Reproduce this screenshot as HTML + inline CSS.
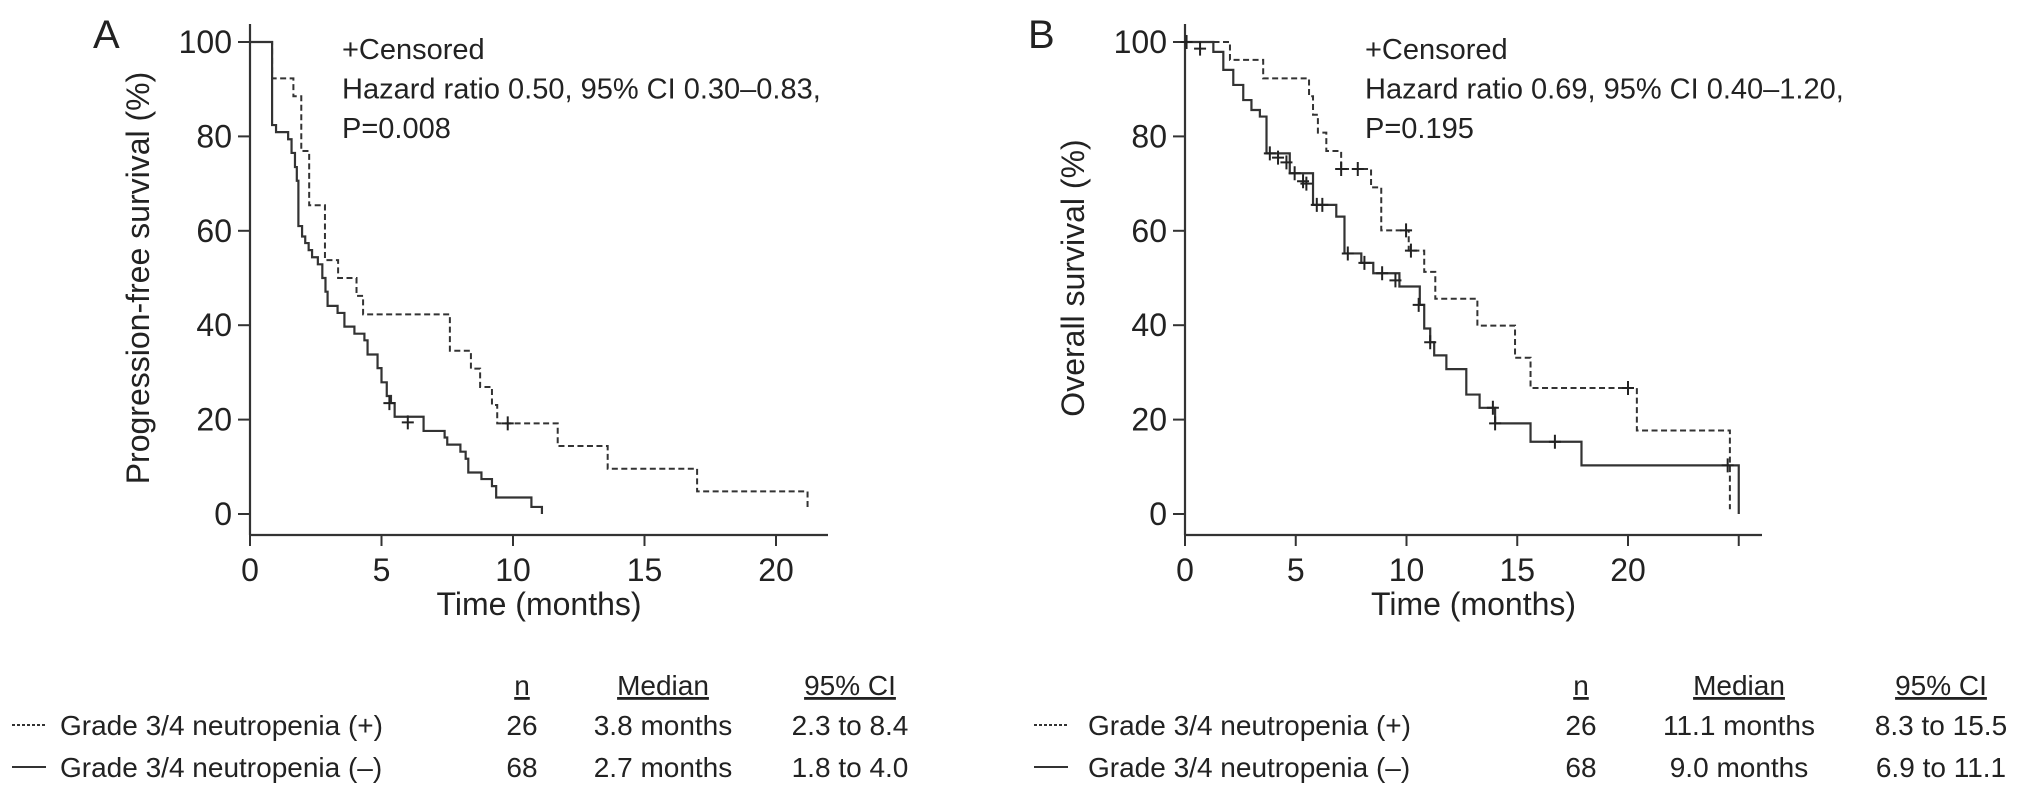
<!DOCTYPE html>
<html><head><meta charset="utf-8">
<style>
html,body{margin:0;padding:0;background:#fff;}
svg{display:block;font-family:"Liberation Sans",Arial,sans-serif;fill:#222;}
</style></head>
<body>
<svg id="fig" width="2032" height="797" viewBox="0 0 2032 797" xmlns="http://www.w3.org/2000/svg">
<g id="root"></g>
</svg>
<script>
// ---- Panel A data (progression-free survival) ----
const aPosTimes = [0.84,1.65,1.95,2.25,2.85,3.35,4.05,4.3,7.6,8.4,8.75,9.2,9.4,11.7,13.6,17.0,21.2];
const aPosVals  = [92.3,88.5,76.9,65.4,53.8,50.0,46.2,42.3,34.6,30.8,26.9,23.1,19.2,14.4,9.6,4.8,0.8];
const aPosCensT = [9.8];
const aPosCensV = [19.2];
const aNegTimes = [0.84,0.99,1.45,1.58,1.71,1.78,1.84,1.98,2.1,2.23,2.36,2.58,2.75,2.87,2.95,3.33,3.59,3.97,4.35,4.47,4.85,5.0,5.2,5.36,5.5,6.6,7.4,7.5,8.0,8.2,8.3,8.8,9.2,9.36,10.7,11.1];
const aNegVals  = [82.4,80.9,79.4,76.5,73.5,70.6,61.0,58.8,57.4,55.9,54.4,52.9,50.0,47.1,44.1,42.6,39.7,38.2,36.8,33.8,30.9,27.9,25.0,23.5,20.6,17.6,16.2,14.7,13.2,11.7,8.8,7.4,5.9,3.5,1.5,0];
const aNegCensT = [5.3,6.0];
const aNegCensV = [23.5,19.4];
// ---- Panel B data (overall survival) ----
const bPosTimes = [2.03,3.53,5.6,5.78,6.0,6.38,7.05,8.4,8.86,10.1,10.8,11.3,13.2,14.9,15.6,20.4,24.6];
const bPosVals  = [96.2,92.3,88.5,84.6,80.8,76.9,73.1,69.2,60.1,55.8,51.3,45.6,39.9,33.1,26.7,17.7,1.0];
const bPosCensT = [7.05,7.8,9.98,10.2,20.0];
const bPosCensV = [73.1,73.1,60.1,55.8,26.7];
const bNegTimes = [1.28,1.73,2.18,2.63,3.0,3.38,3.68,4.73,5.78,6.83,7.2,7.96,8.5,9.68,10.6,10.8,11.07,11.25,11.8,12.7,13.3,14.0,15.6,17.9,25.0];
const bNegVals  = [97.9,94.1,90.9,87.7,85.6,84.2,76.4,72.2,65.5,63.0,55.2,53.2,51.0,48.2,44.3,39.3,36.4,33.6,30.7,25.3,22.5,19.2,15.3,10.3,0];
const bNegCensT = [0.07,0.68,3.83,4.2,4.58,4.95,5.33,5.48,5.95,6.2,7.35,8.1,8.9,9.5,10.55,11.07,13.9,14.0,16.7,24.5];
const bNegCensV = [100,98.6,76.4,75.5,74.5,72.2,70.5,70.0,65.5,65.5,55.2,53.2,51.0,49.5,44.3,36.4,22.5,19.2,15.3,10.3];
const yTicks = [0,20,40,60,80,100];
const aXTicks = [0,5,10,15,20];
const bXTicks = [0,5,10,15,20,25];
const bXLabels = ["0","5","10","15","20",""];

const NS="http://www.w3.org/2000/svg";
const root=document.getElementById('root');
function mk(tag,attrs,parent){const e=document.createElementNS(NS,tag);for(const k in attrs)e.setAttribute(k,attrs[k]);(parent||root).appendChild(e);return e;}

function panel(cfg){
  const g=mk('g',{});
  
  
  const X=t=>cfg.x0+t*cfg.px;
  const Y=v=>514-v*4.72;
  // y axis
  const ya=mk('line',{x1:cfg.x0,y1:24,x2:cfg.x0,y2:535,stroke:'#333','stroke-width':2.2},g);
  
  
  yTicks.forEach(v=>{
    mk('line',{x1:cfg.x0-12,y1:Y(v),x2:cfg.x0,y2:Y(v),stroke:'#333','stroke-width':2},g);
    const t=mk('text',{x:cfg.x0-18,y:Y(v)+11,'font-size':32,'text-anchor':'end'},g);
    t.textContent=v;
    
    
  });
  // x axis
  const xa=mk('line',{x1:cfg.x0-1,y1:535,x2:cfg.xEnd,y2:535,stroke:'#333','stroke-width':2.2},g);
  
  
  cfg.xt.forEach((v,i)=>{
    mk('line',{x1:X(v),y1:535,x2:X(v),y2:546,stroke:'#333','stroke-width':2},g);
    const t=mk('text',{x:X(v),y:581,'font-size':32,'text-anchor':'middle'},g);
    t.textContent=cfg.xl?cfg.xl[i]:v;
    
    
  });
  const xt=mk('text',{x:(cfg.x0+cfg.xEnd)/2,y:615,'font-size':32,'text-anchor':'middle'},g);
  xt.textContent='Time (months)';
  
  
  const yt=mk('text',{x:0,y:0,'font-size':32,'text-anchor':'middle',transform:`translate(${cfg.x0-101},278) rotate(-90)`},g);
  yt.textContent=cfg.ytitle;
  
  
  const pl=mk('text',{x:cfg.x0-157,y:48,'font-size':40},g);
  pl.textContent=cfg.label;
  
  
  cfg.notes.forEach((s,i)=>{
    const n=mk('text',{x:cfg.tx,y:59+i*39.5,'font-size':29},g);
    n.textContent=s;
    
    
  });
  function curve(ts,vs,dash,nm){
    let d=`M${X(0)},${Y(100)}`;
    for(let i=0;i<ts.length;i++){d+=` H${X(ts[i])} V${Y(vs[i])}`;}
    const p=mk('path',{d:d,fill:'none',stroke:'#333','stroke-width':dash?2:2.2,'stroke-dasharray':dash?'6,3.5':'none'},g);
    
    
  }
  function cens(ts,vs,nm){
    for(let i=0;i<ts.length;i++){
      const c=mk('path',{d:`M${X(ts[i])-6},${Y(vs[i])} h12 M${X(ts[i])},${Y(vs[i])-7} v14`,stroke:'#222','stroke-width':2,fill:'none'},g);
      
      
    }
  }
  curve(cfg.pt,cfg.pv,true,'curve-neutropenia-positive');
  curve(cfg.nt,cfg.nv,false,'curve-neutropenia-negative');
  cens(cfg.pct,cfg.pcv,'censor-mark-positive');
  cens(cfg.nct,cfg.ncv,'censor-mark-negative');
}
panel({name:'panel-a',label:'A',x0:250,px:26.3,xEnd:828,xt:aXTicks,ytitle:'Progression-free survival (%)',tx:342,
  notes:['+Censored','Hazard ratio 0.50, 95% CI 0.30\u20130.83,','P=0.008'],
  pt:aPosTimes,pv:aPosVals,nt:aNegTimes,nv:aNegVals,pct:aPosCensT,pcv:aPosCensV,nct:aNegCensT,ncv:aNegCensV});
panel({name:'panel-b',label:'B',x0:1185,px:22.15,xEnd:1762,xt:bXTicks,xl:bXLabels,ytitle:'Overall survival (%)',tx:1365,
  notes:['+Censored','Hazard ratio 0.69, 95% CI 0.40\u20131.20,','P=0.195'],
  pt:bPosTimes,pv:bPosVals,nt:bNegTimes,nv:bNegVals,pct:bPosCensT,pcv:bPosCensV,nct:bNegCensT,ncv:bNegCensV});

// legends / tables
function table(cfg){
  const g=mk('g',{'font-size':28});
  
  
  const hdr=[['n',cfg.c[0]],['Median',cfg.c[1]],['95% CI',cfg.c[2]]];
  hdr.forEach(h=>{
    const t=mk('text',{x:h[1],y:695,'text-anchor':'middle','text-decoration':'underline'},g);
    t.textContent=h[0];
    
    
    const w=h[0].length*15.5;
  });
  cfg.rows.forEach((r,i)=>{
    const y=735+i*42;
    const ln=mk('line',{x1:cfg.lx,y1:y-10,x2:cfg.lx+34,y2:y-10,stroke:'#333','stroke-width':2,'stroke-dasharray':i==0?'3,2':'none'},g);
    
    
    const lab=mk('text',{x:cfg.tx,y:y},g);
    lab.textContent=r[0];
    
    
    for(let k=0;k<3;k++){
      const t=mk('text',{x:cfg.c[k],y:y,'text-anchor':'middle'},g);
      t.textContent=r[k+1];
      
      
    }
  });
}
table({name:'legend-table-a',lx:12,tx:60,c:[522,663,850],rows:[
  ['Grade 3/4 neutropenia (+)','26','3.8 months','2.3 to 8.4'],
  ['Grade 3/4 neutropenia (\u2013)','68','2.7 months','1.8 to 4.0']]});
table({name:'legend-table-b',lx:1034,tx:1088,c:[1581,1739,1941],rows:[
  ['Grade 3/4 neutropenia (+)','26','11.1 months','8.3 to 15.5'],
  ['Grade 3/4 neutropenia (\u2013)','68','9.0 months','6.9 to 11.1']]});
</script>
</body></html>
